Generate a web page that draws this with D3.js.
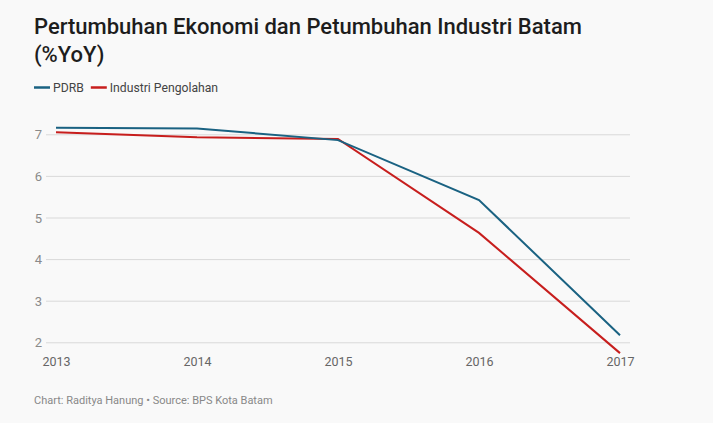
<!DOCTYPE html>
<html><head><meta charset="utf-8">
<script src="https://cdn.jsdelivr.net/npm/d3@7"></script>
<style>
html,body{margin:0;padding:0;background:#f9f9f9;}
svg{display:block;font-family:Roboto, "Noto Sans", sans-serif;}
</style></head>
<body>
<svg id="c" width="713" height="423"></svg>
<script>
const years = [2013, 2014, 2015, 2016, 2017];
const pdrb = [7.16, 7.14, 6.86, 5.42, 2.17];
const industri = [7.05, 6.93, 6.89, 4.63, 1.74];
const yTicks = [2, 3, 4, 5, 6, 7];
const seriesNames = ["PDRB", "Industri Pengolahan"];
const colors = ["#1a6282", "#c71e1d"];

const svg = d3.select("#c");
svg.append("rect").attr("width",713).attr("height",423).attr("fill","#f9f9f9");

const title = svg.append("text").attr("x",34).attr("y",34)
  .attr("font-size",22).attr("font-weight",500).attr("fill","#1d1d1d");
title.append("tspan").attr("x",34).attr("y",34).text("Pertumbuhan Ekonomi dan Petumbuhan Industri Batam");
title.append("tspan").attr("x",34).attr("y",62).text("(%YoY)");

// legend
const leg = svg.append("g");
let lx = 34;
seriesNames.forEach((n,i)=>{
  leg.append("line").attr("x1",lx).attr("x2",lx+16).attr("y1",87.5).attr("y2",87.5)
    .attr("stroke",colors[i]).attr("stroke-width",2.5);
  const t = leg.append("text").attr("x",lx+19).attr("y",91.5).attr("font-size",12.2).attr("fill","#444").text(n);
  lx = lx + 19 + t.node().getComputedTextLength() + 7;
});

const x = d3.scalePoint().domain(years).range([56, 620]);
const y = d3.scaleLinear().domain([2, 7]).range([342.3, 134.3]);

// grid
const yAxis = d3.axisLeft(y).tickValues(yTicks).tickSize(-584).tickPadding(5).tickFormat(d3.format("d"));
const gy = svg.append("g").attr("transform","translate(46,0)").call(yAxis);
gy.select(".domain").remove();
gy.selectAll(".tick line").attr("stroke","#d9d9d9").attr("stroke-width",1);
gy.selectAll(".tick text").attr("font-size",13).attr("fill","#8a8a8a").attr("font-family","Roboto").attr("x",-4).attr("dy","0.35em");

const xAxis = d3.axisBottom(x).tickSize(0).tickPadding(0);
const gx = svg.append("g").attr("transform","translate(0,355)").call(xAxis);
gx.select(".domain").remove();
gx.selectAll(".tick text").attr("font-size",12.5).attr("fill","#666").attr("font-family","Roboto").attr("dy","0.9em");

const line = d3.line().x((d,i)=>x(years[i])).y(d=>y(d));
[industri, pdrb].forEach((s,k)=>{
  svg.append("path").datum(s).attr("d",line).attr("fill","none")
    .attr("stroke", k===0?colors[1]:colors[0]).attr("stroke-width",2);
});

svg.append("text").attr("x",34).attr("y",404).attr("font-size",11).attr("fill","#888")
  .text("Chart: Raditya Hanung \u2022 Source: BPS Kota Batam");
</script>
</body></html>
